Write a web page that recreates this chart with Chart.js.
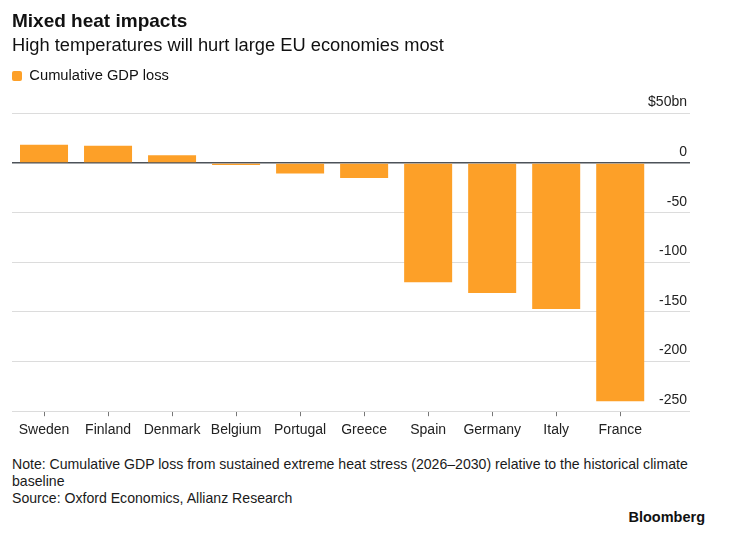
<!DOCTYPE html>
<html>
<head>
<meta charset="utf-8">
<script src="https://cdn.jsdelivr.net/npm/chart.js@4.4.1/dist/chart.umd.min.js"></script>
<style>
  html, body { margin: 0; padding: 0; background: #fff; }
  #wrap { position: relative; width: 752px; height: 536px; font-family: "Liberation Sans", Arial, sans-serif; }
  #box { position: absolute; left: 0; top: 0; width: 752px; height: 445px; }
  .note { position: absolute; left: 12px; width: 710px; font-size: 14.1px; line-height: 17px; color: #1a1a1a; }
  #brand { position: absolute; right: 47px; top: 509px; font-size: 14.5px; font-weight: bold; color: #111; }
</style>
</head>
<body>
<div id="wrap">
  <div id="box"><canvas id="myChart"></canvas></div>
  <div class="note" style="top:456px">Note: Cumulative GDP loss from sustained extreme heat stress (2026–2030) relative to the historical climate baseline</div>
  <div class="note" style="top:490px">Source: Oxford Economics, Allianz Research</div>
  <div id="brand">Bloomberg</div>
</div>
<script>
// data ($bn)
const countries = ['Sweden', 'Finland', 'Denmark', 'Belgium', 'Portugal', 'Greece', 'Spain', 'Germany', 'Italy', 'France'];
const gdpLoss = [18.5, 17.5, 8, -2, -10.5, -15, -120, -131, -147, -240];
const yTicks = [50, 0, -50, -100, -150, -200, -250];

const orange = 'rgb(253, 160, 40)';
const ctx = document.getElementById('myChart').getContext('2d');

// leave some room under the legend
const legendGap = {
    id: 'legendGap',
    beforeInit(chart) {
        const fit = chart.legend.fit;
        chart.legend.fit = function () {
            fit.bind(chart.legend)();
            this.height += 20;
        };
    }
};

const myChart = new Chart(ctx, {
    type: 'bar',
    data: {
        datasets: [{
            label: 'Cumulative GDP loss',
            data: gdpLoss.map((v, i) => ({ x: i, y: v })),
            backgroundColor: orange,
            borderWidth: 0,
            borderRadius: 0,
            categoryPercentage: 1,
            barPercentage: 0.75,
        }]
    },
    options: {
        responsive: true,
        maintainAspectRatio: false,
        animation: false,
        layout: {
            padding: { left: 12, right: 62, top: 0, bottom: 0 }
        },
        scales: {
            x: {
                type: 'linear',
                offset: false,
                min: -0.5,
                max: 10.09,
                afterBuildTicks: (s) => {
                    s.ticks = countries.map((c, i) => ({ value: i }));
                },
                ticks: {
                    stepSize: 1,
                    includeBounds: false,
                    autoSkip: false,
                    maxRotation: 0,
                    padding: 6,
                    color: '#222',
                    font: { family: 'Liberation Sans', size: 14 },
                    callback: (v) => countries[v] ?? '',
                },
                grid: {
                    offset: false,
                    drawOnChartArea: false,
                    drawTicks: true,
                    tickLength: 5,
                    tickColor: '#777',
                    tickWidth: 1,
                },
                border: { display: false },
            },
            y: {
                position: 'right',
                min: -250,
                max: 50,
                afterBuildTicks: (s) => {
                    s.ticks = yTicks.map(v => ({ value: v }));
                },
                afterFit: (s) => { s.width = 0; },
                ticks: {
                    mirror: true,
                    padding: -3,
                    labelOffset: -11,
                    color: '#222',
                    font: { family: 'Liberation Sans', size: 14 },
                    callback: (v) => v === 50 ? '$50bn' : String(v),
                },
                grid: {
                    drawTicks: false,
                    color: (c) => c.tick && c.tick.value === 0 ? '#4d5259' : '#dcdcdc',
                    lineWidth: (c) => c.tick && c.tick.value === 0 ? 1.5 : 1,
                },
                border: { display: false },
            }
        },
        plugins: {
            title: {
                display: true,
                text: 'Mixed heat impacts',
                align: 'start',
                color: '#111',
                font: { family: 'Liberation Sans', size: 19, weight: 'bold' },
                padding: { top: 10, bottom: 2 },
            },
            subtitle: {
                display: true,
                text: 'High temperatures will hurt large EU economies most',
                align: 'start',
                color: '#111',
                font: { family: 'Liberation Sans', size: 18.3 },
                padding: { top: 0, bottom: 12 },
            },
            legend: {
                align: 'start',
                labels: {
                    boxWidth: 10,
                    boxHeight: 10,
                    padding: 0,
                    useBorderRadius: true,
                    borderRadius: 2,
                    color: '#111',
                    font: { family: 'Liberation Sans', size: 14.7 },
                },
            },
            tooltip: { enabled: false },
        },
    },
    plugins: [legendGap],
});
</script>
</body>
</html>
